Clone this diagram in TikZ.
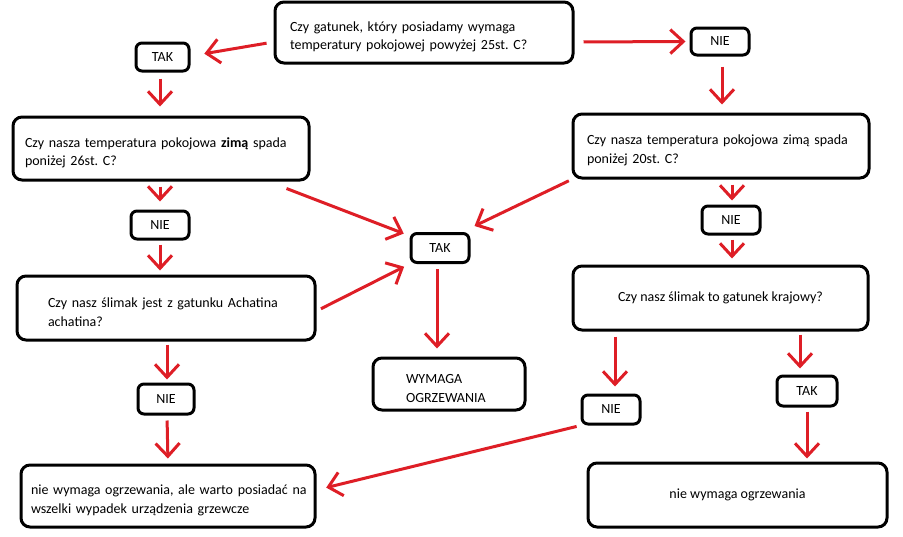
\documentclass[tikz,border=0pt]{standalone}
\usepackage{fontspec}
\setmainfont{Carlito}
\frenchspacing
\usepackage{tikz}
\usetikzlibrary{arrows}
\usetikzlibrary{arrows.meta}
\usetikzlibrary{shapes}
\usetikzlibrary{positioning}

\definecolor{strzalka}{RGB}{222,30,38}

\begin{document}
\begin{tikzpicture}[x=1pt,y=-1pt,
  font=\fontsize{14}{18.5}\selectfont,
  pytanie/.style={draw,line width=3pt,rounded corners=9pt,align=left,inner ysep=0pt},
  dwie/.style={pytanie,execute at begin node={\rule{0pt}{18pt}}},
  odp/.style={draw,line width=3pt,rounded corners=6pt,inner sep=0pt},
  strz/.style={draw=strzalka,line width=3pt,-{Straight Barb[length=13pt,width=24pt]}}]
  \useasboundingbox (0,0) rectangle (903,536);

  \node[dwie,minimum width=298pt,minimum height=61pt,text width=268pt,inner xsep=15pt] (q1) at (424,32.5)
    {Czy gatunek, który posiadamy wymaga\\temperatury pokojowej powyżej 25st. C?};
  \node[dwie,minimum width=296pt,minimum height=63pt,text width=272pt,inner xsep=12pt] (q2) at (161,148.5)
    {Czy nasza temperatura pokojowa \textbf{zimą} spada\\poniżej 26st. C?};
  \node[dwie,minimum width=296pt,minimum height=64pt,text width=268pt,inner xsep=14pt] (q3) at (721,146)
    {Czy nasza temperatura pokojowa zimą spada\\poniżej 20st. C?};
  \node[dwie,minimum width=298pt,minimum height=64pt,text width=236pt,inner xsep=31pt] (q4) at (166,308)
    {Czy nasz ślimak jest z gatunku Achatina\\achatina?};
  \node[pytanie,align=center,minimum width=295pt,minimum height=64pt] (q5) at (720.5,298)
    {Czy nasz ślimak to gatunek krajowy?};
  \node[dwie,minimum width=152pt,minimum height=52pt,text width=86pt,inner xsep=33pt] (wym) at (449,384)
    {WYMAGA\\OGRZEWANIA};
  \node[dwie,minimum width=294pt,minimum height=62pt,text width=280pt,inner xsep=7pt] (bl) at (168,496)
    {\hspace*{3pt}nie wymaga ogrzewania, ale warto posiadać na\\\hspace*{3pt}wszelki wypadek urządzenia grzewcze};
  \node[pytanie,align=center,minimum width=299pt,minimum height=64pt] (br) at (737.5,495)
    {nie wymaga ogrzewania};

  \node[odp,minimum width=53pt,minimum height=28pt] (tak1) at (162.5,57) {TAK};
  \node[odp,minimum width=58pt,minimum height=27pt] (nie1) at (720,41.5) {NIE};
  \node[odp,minimum width=58pt,minimum height=28pt] (nie2) at (160,225) {NIE};
  \node[odp,minimum width=58pt,minimum height=28pt] (nie3) at (731,220) {NIE};
  \node[odp,minimum width=58pt,minimum height=29pt] (takc) at (440,248) {TAK};
  \node[odp,minimum width=56pt,minimum height=30pt] (nie4) at (166,399) {NIE};
  \node[odp,minimum width=58pt,minimum height=29pt] (nie5) at (611,409.5) {NIE};
  \node[odp,minimum width=60pt,minimum height=30pt] (tak2) at (807,391) {TAK};

  \draw[strz,shorten <=7pt,shorten >=14pt] ([yshift=-9.5pt]q1.west) -- ([yshift=1pt]tak1.east);
  \draw[strz,shorten <=9pt,shorten >=4pt] ([yshift=-9.5pt]q1.east) -- (nie1.west);
  \draw[strz,shorten <=6pt,shorten >=9pt] ([xshift=-2.5pt]tak1.south) -- ([xshift=-1pt]q2.north);
  \draw[strz,shorten <=10pt,shorten >=8pt] ([xshift=2pt]nie1.south) -- ([xshift=1pt]q3.north);
  \draw[strz,shorten >=4pt] ([xshift=-24pt,yshift=-7pt]q2.south east) -- ([xshift=-2pt,yshift=-3pt]takc.north west);
  \draw[strz,shorten <=3pt] (q3.south west) -- ([xshift=4pt,yshift=6pt]takc.north east);
  \draw[strz,shorten <=5pt,shorten >=8pt] ([xshift=-1pt]q2.south) -- (nie2.north);
  \draw[strz,shorten <=4pt,shorten >=4pt] (nie2.south) -- ([xshift=-6pt]q4.north);
  \draw[strz,shorten <=5pt,shorten >=6pt] ([yshift=-3pt]q4.east) -- (takc.south west);
  \draw[strz,shorten <=5pt,shorten >=8pt] ([xshift=-3pt]takc.south) -- ([xshift=-12pt]wym.north);
  \draw[strz,shorten <=5pt,shorten >=4pt] ([xshift=11pt]q3.south) -- ([xshift=1pt]nie3.north);
  \draw[strz,shorten <=4pt,shorten >=6pt] ([xshift=1pt]nie3.south) -- ([xshift=11.5pt]q5.north);
  \draw[strz,shorten <=3pt,shorten >=3pt] ([xshift=1pt]q4.south) -- ([xshift=1pt]nie4.north);
  \draw[strz,shorten <=5pt,shorten >=5pt] ([xshift=1pt]nie4.south) -- (bl.north);
  \draw[strz,shorten <=5pt,shorten >=7pt] ([xshift=-105.5pt]q5.south) -- ([xshift=4pt]nie5.north);
  \draw[strz,shorten <=3pt,shorten >=6pt] ([xshift=79.5pt]q5.south) -- ([xshift=-7pt]tak2.north);
  \draw[strz,shorten <=4pt,shorten >=3pt] (tak2.south) -- ([xshift=69.5pt]br.north);
  \draw[strz,shorten <=4pt,shorten >=10pt] (nie5.south west) -- ([yshift=6pt]bl.east);
\end{tikzpicture}
\end{document}
